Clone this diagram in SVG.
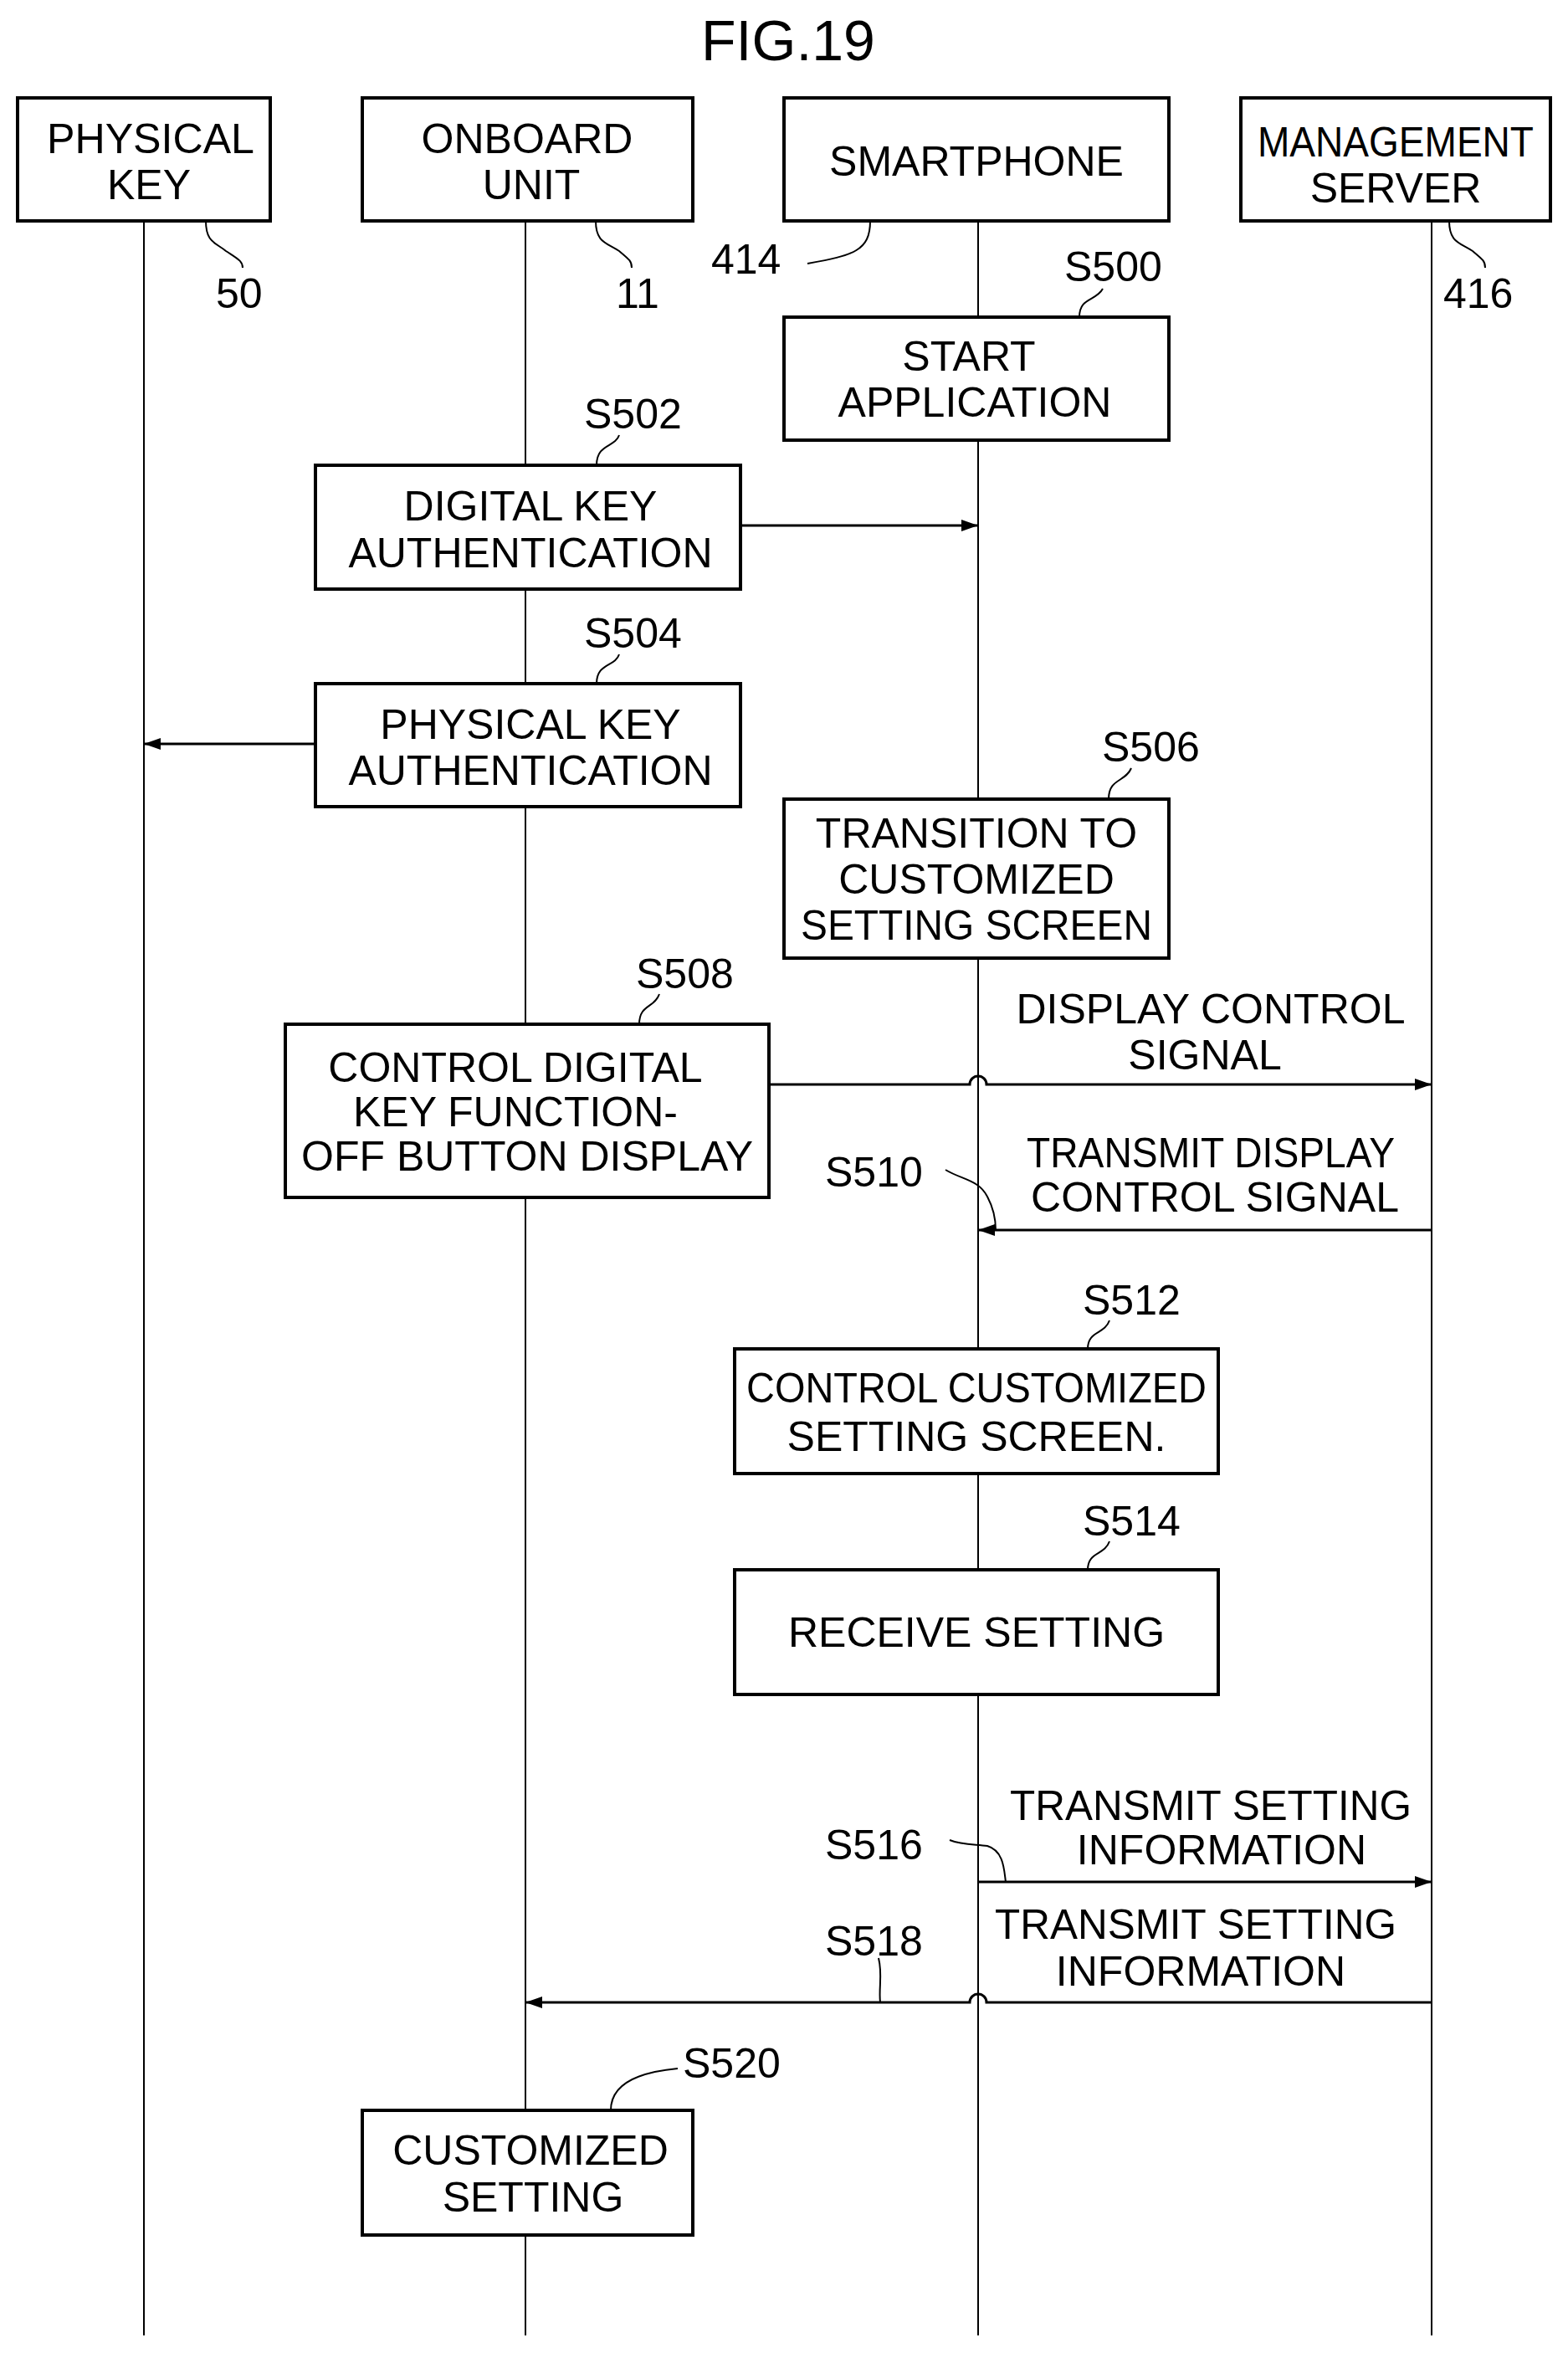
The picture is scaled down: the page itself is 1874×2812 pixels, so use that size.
<svg xmlns="http://www.w3.org/2000/svg" width="1874" height="2812" viewBox="0 0 1874 2812">
<defs>
<style>
.b{fill:#fff;stroke:#000;stroke-width:4}
.l{stroke:#000;stroke-width:2;fill:none}
.c{stroke:#000;stroke-width:3;fill:none}
.t{font-family:"Liberation Sans",sans-serif;font-size:50px;text-anchor:middle;fill:#000}
.n{font-family:"Liberation Sans",sans-serif;font-size:50px;fill:#000}
</style>
<marker id="a" viewBox="0 0 20 14" refX="20" refY="7" markerWidth="20" markerHeight="14" markerUnits="userSpaceOnUse" orient="auto"><path d="M0,0 L20,7 L0,14 Z" fill="#000"/></marker>
</defs>
<rect width="1874" height="2812" fill="#fff"/>
<text x="942" y="72" class="t" style="font-size:68px">FIG.19</text>
<g id="lifelines">
<path class="l" d="M172,264V2791M628,264V2791M1169,264V2791M1711,264V2791"/>
</g>
<g id="physical-key"><rect class="b" x="21" y="117" width="302" height="147"/><text class="t" x="180" y="183" textLength="248" lengthAdjust="spacingAndGlyphs">PHYSICAL</text><text class="t" x="178" y="238">KEY</text></g>
<g id="onboard-unit"><rect class="b" x="433" y="117" width="395" height="147"/><text class="t" x="630" y="183">ONBOARD</text><text class="t" x="635" y="238">UNIT</text></g>
<g id="smartphone"><rect class="b" x="937" y="117" width="460" height="147"/><text class="t" x="1167" y="210">SMARTPHONE</text></g>
<g id="management-server"><rect class="b" x="1483" y="117" width="370" height="147"/><text class="t" x="1668" y="187" textLength="330" lengthAdjust="spacingAndGlyphs">MANAGEMENT</text><text class="t" x="1668" y="242">SERVER</text></g>
<g id="refs">
<path class="l" d="M246,264 C246,290 258,290 270,300 C285,310 290,312 290,320"/><text class="n" x="258" y="368">50</text>
<path class="l" d="M712,264 C712,290 725,290 740,300 C752,310 755,312 755,320"/><text class="n" x="736" y="368">11</text>
<path class="l" d="M1040,264 C1040,300 1020,305 965,315"/><text class="n" x="850" y="327">414</text>
<path class="l" d="M1732,264 C1732,290 1745,290 1760,300 C1772,310 1775,312 1775,320"/><text class="n" x="1725" y="368">416</text>
</g>
<g id="s500"><text class="n" x="1272" y="336">S500</text><path class="l" d="M1290,379 C1290,355 1310,360 1318,345"/>
<rect class="b" x="937" y="379" width="460" height="147"/><text class="t" x="1158" y="443">START</text><text class="t" x="1165" y="498">APPLICATION</text></g>
<g id="s502"><text class="n" x="698" y="512">S502</text><path class="l" d="M713,556 C713,530 735,535 740,520"/>
<rect class="b" x="377" y="556" width="508" height="148"/><text class="t" x="634" y="622">DIGITAL KEY</text><text class="t" x="634" y="678">AUTHENTICATION</text></g>
<g id="s504"><text class="n" x="698" y="774">S504</text><path class="l" d="M713,817 C713,792 735,797 740,782"/>
<rect class="b" x="377" y="817" width="508" height="147"/><text class="t" x="634" y="883">PHYSICAL KEY</text><text class="t" x="634" y="938">AUTHENTICATION</text></g>
<g id="s506"><text class="n" x="1317" y="910">S506</text><path class="l" d="M1325,955 C1325,930 1345,935 1352,918"/>
<rect class="b" x="937" y="955" width="460" height="190"/><text class="t" x="1167" y="1013">TRANSITION TO</text><text class="t" x="1167" y="1068">CUSTOMIZED</text><text class="t" x="1167" y="1123" textLength="420" lengthAdjust="spacingAndGlyphs">SETTING SCREEN</text></g>
<g id="s508"><text class="n" x="760" y="1181">S508</text><path class="l" d="M764,1224 C764,1200 782,1205 788,1188"/>
<rect class="b" x="341" y="1224" width="578" height="207"/><text class="t" x="616" y="1293">CONTROL DIGITAL</text><text class="t" x="616" y="1346">KEY FUNCTION-</text><text class="t" x="630" y="1399" textLength="540" lengthAdjust="spacingAndGlyphs">OFF BUTTON DISPLAY</text></g>
<g id="s512"><text class="n" x="1294" y="1571">S512</text><path class="l" d="M1300,1612 C1300,1590 1320,1595 1326,1578"/>
<rect class="b" x="878" y="1612" width="578" height="149"/><text class="t" x="1167" y="1676" textLength="550" lengthAdjust="spacingAndGlyphs">CONTROL CUSTOMIZED</text><text class="t" x="1167" y="1734">SETTING SCREEN.</text></g>
<g id="s514"><text class="n" x="1294" y="1835">S514</text><path class="l" d="M1300,1876 C1300,1854 1320,1859 1326,1842"/>
<rect class="b" x="878" y="1876" width="578" height="149"/><text class="t" x="1167" y="1968">RECEIVE SETTING</text></g>
<g id="s520"><text class="n" x="816" y="2483">S520</text><path class="l" d="M730,2522 C730,2500 745,2478 810,2472"/>
<rect class="b" x="433" y="2522" width="395" height="149"/><text class="t" x="634" y="2587">CUSTOMIZED</text><text class="t" x="637" y="2643">SETTING</text></g>
<g id="connectors">
<path class="c" d="M885,628H1169" marker-end="url(#a)"/>
<path class="c" d="M377,889H172" marker-end="url(#a)"/>
<path class="c" d="M919,1296H1159 A10,10 0 0 1 1179,1296H1711" marker-end="url(#a)"/>
<path class="c" d="M1711,1470H1169" marker-end="url(#a)"/>
<path class="c" d="M1169,2249H1711" marker-end="url(#a)"/>
<path class="c" d="M1711,2393H1179 A10,10 0 0 0 1159,2393H628" marker-end="url(#a)"/>
<path class="l" d="M1130,1398 C1150,1410 1170,1410 1180,1430 C1188,1445 1190,1460 1190,1470"/>
<path class="l" d="M1135,2199 C1150,2205 1165,2204 1180,2206 C1200,2212 1200,2235 1202,2249"/>
<path class="l" d="M1050,2340 C1055,2360 1050,2375 1052,2393"/>
<text class="t" x="1447" y="1223">DISPLAY CONTROL</text><text class="t" x="1440" y="1278">SIGNAL</text>
<text class="t" x="1447" y="1395" textLength="440" lengthAdjust="spacingAndGlyphs">TRANSMIT DISPLAY</text><text class="t" x="1452" y="1448">CONTROL SIGNAL</text>
<text class="n" x="986" y="1418">S510</text>
<text class="t" x="1447" y="2175" textLength="480" lengthAdjust="spacingAndGlyphs">TRANSMIT SETTING</text><text class="t" x="1460" y="2228">INFORMATION</text>
<text class="n" x="986" y="2222">S516</text>
<text class="t" x="1429" y="2317" textLength="480" lengthAdjust="spacingAndGlyphs">TRANSMIT SETTING</text><text class="t" x="1435" y="2373">INFORMATION</text>
<text class="n" x="986" y="2337">S518</text>
</g>
</svg>
